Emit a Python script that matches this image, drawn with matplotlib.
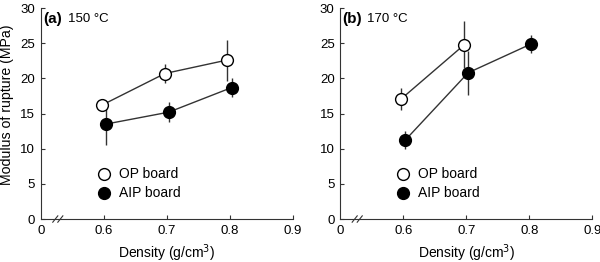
import matplotlib
matplotlib.use('Agg')
import matplotlib.pyplot as plt

plt.rcParams['font.family'] = ['Liberation Sans', 'DejaVu Sans']

# density positions (slightly offset so the two series do not overlap)
op_x_a = [0.597, 0.697, 0.795]
op_y_a = [16.2, 20.7, 22.6]
op_e_a = [0.8, 1.3, 2.9]
aip_x_a = [0.603, 0.703, 0.803]
aip_y_a = [13.5, 15.2, 18.7]
aip_e_a = [3.0, 1.4, 1.4]

op_x_b = [0.597, 0.697]
op_y_b = [17.1, 24.8]
op_e_b = [1.6, 3.3]
aip_x_b = [0.603, 0.703, 0.803]
aip_y_b = [11.2, 20.8, 24.9]
aip_e_b = [1.3, 3.1, 1.3]

panels = [('(a)', '150 °C', op_x_a, op_y_a, op_e_a, aip_x_a, aip_y_a, aip_e_a),
          ('(b)', '170 °C', op_x_b, op_y_b, op_e_b, aip_x_b, aip_y_b, aip_e_b)]

x_ticks = [0.5, 0.6, 0.7, 0.8, 0.9]
x_labels = ['0', '0.6', '0.7', '0.8', '0.9']
y_ticks = [0, 5, 10, 15, 20, 25, 30]

fig = plt.figure(figsize=(6, 2.62), dpi=100)
lefts = [0.068, 0.567]
col = '#333333'
fs = 9.5

for i, (tag, temp, ox, oy, oe, ax_, ay, ae) in enumerate(panels):
    ax = fig.add_axes([lefts[i], 0.164, 0.42, 0.805])
    ax.errorbar(ax_, ay, yerr=ae, fmt='-o', color=col, mfc='black', mec='black',
                ms=8.5, lw=1, elinewidth=1, capsize=0, zorder=2)
    ax.errorbar(ox, oy, yerr=oe, fmt='-o', color=col, mfc='white', mec='black',
                ms=8.5, lw=1, elinewidth=1, capsize=0, zorder=3)
    ax.set_xlim(0.5, 0.9)
    ax.set_ylim(0, 30)
    ax.set_xticks(x_ticks)
    ax.set_xticklabels(x_labels)
    ax.set_yticks(y_ticks)
    ax.tick_params(direction='in', length=3, width=0.8, labelsize=fs, pad=4, color=col)
    ax.xaxis.get_major_ticks()[0].tick1line.set_visible(False)
    for s in ['top', 'right']:
        ax.spines[s].set_visible(False)
    for s in ['left', 'bottom']:
        ax.spines[s].set_color(col)
        ax.spines[s].set_linewidth(0.8)
    # axis break marks
    for dx in [-0.004, 0.004]:
        ax.plot([0.527 + dx - 0.004, 0.527 + dx + 0.004], [-0.45, 0.45],
                color=col, lw=0.8, clip_on=False, zorder=5)
    ax.text(0.504, 28.4, tag, fontsize=11, fontweight='bold', va='center')
    ax.text(0.543, 28.4, temp, fontsize=fs, va='center')
    # legend
    ax.plot([0.6], [6.4], 'o', mfc='white', mec='black', ms=8.5, clip_on=False)
    ax.plot([0.6], [3.7], 'o', mfc='black', mec='black', ms=8.5, clip_on=False)
    ax.text(0.624, 6.4, 'OP board', fontsize=10, va='center')
    ax.text(0.624, 3.7, 'AIP board', fontsize=10, va='center')
    ax.set_xlabel('Density (g/cm$^3$)', fontsize=10, labelpad=4)
    if i == 0:
        ax.set_ylabel('Modulus of rupture (MPa)', fontsize=10.2)
        ax.yaxis.set_label_coords(-0.105, 0.54)

fig.savefig('out.png', dpi=100)
